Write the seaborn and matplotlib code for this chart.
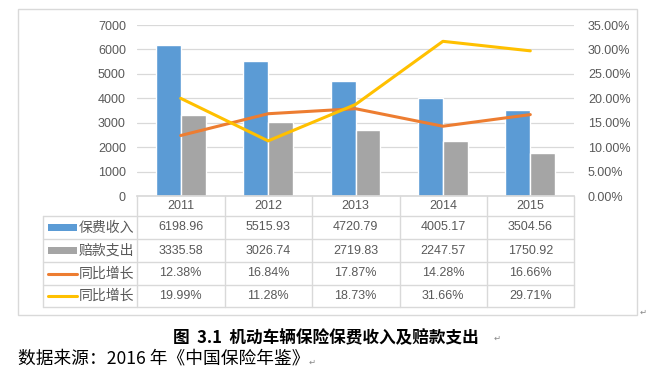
import matplotlib
matplotlib.use("Agg")
import matplotlib.pyplot as plt
from matplotlib.lines import Line2D
from matplotlib.patches import Rectangle
from matplotlib.ticker import PercentFormatter, MultipleLocator
import seaborn as sns
import pandas as pd

years = ["2011", "2012", "2013", "2014", "2015"]
premium = [6198.96, 5515.93, 4720.79, 4005.17, 3504.56]
claims = [3335.58, 3026.74, 2719.83, 2247.57, 1750.92]
growth_a = [12.38, 16.84, 17.87, 14.28, 16.66]
growth_b = [19.99, 11.28, 18.73, 31.66, 29.71]
bar_names = ["保费收入", "赔款支出"]
line_names = ["同比增长", "同比增长"]
caption = "图  3.1  机动车辆保险保费收入及赔款支出"
source = "数据来源：2016 年《中国保险年鉴》"

BLUE, GRAY, ORANGE, YELLOW = "#5B9BD5", "#A5A5A5", "#ED7D31", "#FFC000"
TXT = "#595959"
GRID = "#D9D9D9"

sns.set_theme(style="white")
plt.rcParams["font.family"] = ["Liberation Sans", "Noto Sans CJK SC", "DejaVu Sans"]

W, H = 649, 381
fig = plt.figure(figsize=(W / 100, H / 100), dpi=100)


def fx(x):
    return x / W


def fy(y):
    return 1 - y / H


ax = fig.add_axes([fx(137), fy(196), fx(574) - fx(137), fy(25) - fy(196)])

df = pd.DataFrame({
    "year": years * 2,
    "value": premium + claims,
    "series": [bar_names[0]] * 5 + [bar_names[1]] * 5,
})
sns.barplot(data=df, x="year", y="value", hue="series", palette=[BLUE, GRAY],
            width=0.572, gap=0, legend=False, ax=ax, saturation=1)
ax.set_xlim(-0.5, 4.5)
ax.set_ylim(0, 7000)
ax.yaxis.set_major_locator(MultipleLocator(1000))
ax.grid(axis="y", color=GRID, linewidth=0.9)
ax.set_axisbelow(True)
for s in ["top", "right", "left"]:
    ax.spines[s].set_visible(False)
ax.spines["bottom"].set_color(GRID)
ax.set_xlabel("")
ax.set_ylabel("")
ax.set_xticklabels([])
ax.tick_params(axis="x", length=0)
ax.tick_params(axis="y", length=0, labelsize=9, labelcolor=TXT, pad=8)

ax2 = ax.twinx()
xs = list(range(len(years)))
sns.lineplot(x=xs, y=[v / 100 for v in growth_a], color=ORANGE, linewidth=2.2, ax=ax2)
sns.lineplot(x=xs, y=[v / 100 for v in growth_b], color=YELLOW, linewidth=2.2, ax=ax2)
ax2.set_ylim(0, 0.35)
ax2.yaxis.set_major_locator(MultipleLocator(0.05))
ax2.yaxis.set_major_formatter(PercentFormatter(1.0, decimals=2))
ax2.tick_params(axis="y", length=0, labelsize=9, labelcolor=TXT, pad=10)
for s in ["top", "right", "left", "bottom"]:
    ax2.spines[s].set_visible(False)
ax2.set_ylabel("")

# outer chart border
fig.add_artist(Rectangle((fx(18), fy(315)), fx(637) - fx(18), fy(9) - fy(315),
                         transform=fig.transFigure, fill=False, edgecolor=GRID, linewidth=1))

# data table
row_lines = [216, 239, 262, 285, 307]
col_px = [137, 225, 312, 400, 487, 574]
for y in row_lines:
    fig.add_artist(Line2D([fx(43), fx(574)], [fy(y), fy(y)], color=GRID, linewidth=1))
for x in col_px:
    fig.add_artist(Line2D([fx(x), fx(x)], [fy(196), fy(307)], color=GRID, linewidth=1))
fig.add_artist(Line2D([fx(43), fx(43)], [fy(216), fy(307)], color=GRID, linewidth=1))

to_fig = ax.transData + fig.transFigure.inverted()
centers = [to_fig.transform((i, 0))[0] for i in range(len(years))]
for i, yr in enumerate(years):
    fig.text(centers[i], fy(206), yr, ha="center", va="center", fontsize=9, color=TXT)

row_centers = [227.5, 250.5, 273.5, 296]
rows = [
    (bar_names[0], [f"{v:.2f}" for v in premium], BLUE, "bar"),
    (bar_names[1], [f"{v:.2f}" for v in claims], GRAY, "bar"),
    (line_names[0], [f"{v:.2f}%" for v in growth_a], ORANGE, "line"),
    (line_names[1], [f"{v:.2f}%" for v in growth_b], YELLOW, "line"),
]
for (name, vals, col, kind), yc in zip(rows, row_centers):
    if kind == "bar":
        fig.add_artist(Rectangle((fx(48), fy(yc + 3.5)), fx(77) - fx(48), fy(yc - 3.5) - fy(yc + 3.5),
                                 transform=fig.transFigure, color=col, linewidth=0))
    else:
        fig.add_artist(Line2D([fx(48), fx(77)], [fy(yc), fy(yc)], color=col, linewidth=2.2))
    fig.text(fx(79), fy(yc), name, ha="left", va="center", fontsize=10, color=TXT,
             family=["Noto Sans CJK SC"])
    for i, v in enumerate(vals):
        fig.text(centers[i], fy(yc), v, ha="center", va="center", fontsize=9, color=TXT)

# caption and source
fig.text(fx(173), fy(338.5), caption, ha="left", va="center", fontsize=12, fontweight="bold",
         color="black", family=["Noto Sans CJK SC", "DejaVu Sans"])
fig.text(fx(18), fy(358), source, ha="left", va="center", fontsize=12.75, color="black",
         family=["Noto Sans CJK SC", "DejaVu Sans"])
fig.text(fx(309), fy(362), "↵", ha="left", va="center", fontsize=6, color="#888888",
         family=["DejaVu Sans"])
fig.text(fx(494), fy(338), "↵", ha="left", va="center", fontsize=6, color="#888888",
         family=["DejaVu Sans"])
fig.text(fx(640), fy(312), "↵", ha="left", va="center", fontsize=6, color="#888888",
         family=["DejaVu Sans"])

fig.savefig("out.png", dpi=100)
